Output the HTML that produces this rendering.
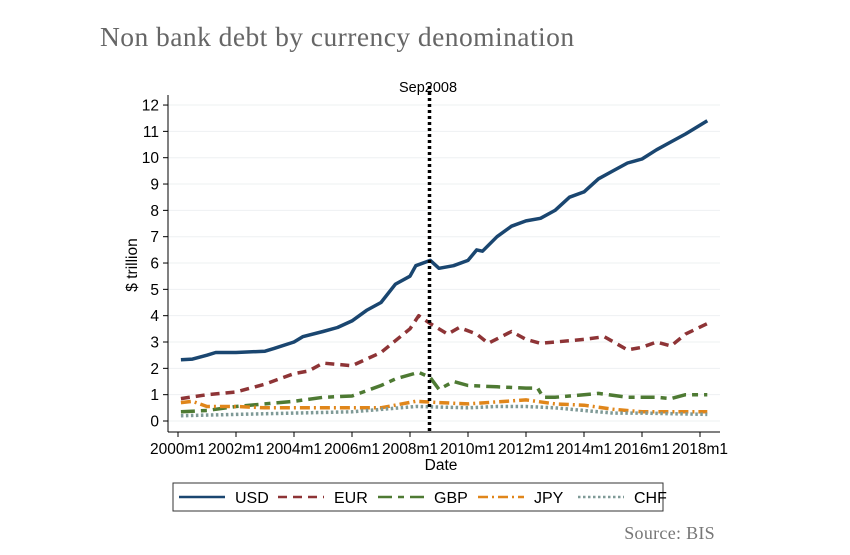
<!DOCTYPE html>
<html><head><meta charset="utf-8"><style>
body{margin:0;background:#fff;width:850px;height:550px;overflow:hidden}
svg text{font-family:"Liberation Sans",sans-serif}
</style></head><body>
<svg id="s" width="850" height="550" xmlns="http://www.w3.org/2000/svg">
<text x="100" y="46" style="font-family:'Liberation Serif',serif;letter-spacing:0.45px" font-size="27.5" fill="#666">Non bank debt by currency denomination</text>
<g id="grid"></g>
<line x1="168" y1="95" x2="168" y2="432" stroke="#000" stroke-width="1"/>
<line x1="168" y1="432" x2="720" y2="432" stroke="#000" stroke-width="1"/>
<g id="series"></g>
<line x1="429.5" y1="86" x2="429.5" y2="432" stroke="#000" stroke-width="3.5" stroke-dasharray="3,3"/>
<text x="428" y="92" font-size="14.5" text-anchor="middle">Sep2008</text>
<text transform="translate(137,265) rotate(-90)" font-size="15.5" text-anchor="middle">$ trillion</text>
<text x="441" y="470" font-size="15.5" text-anchor="middle">Date</text>
<rect x="173" y="483" width="490" height="28" fill="#fff" stroke="#333" stroke-width="1"/>
<g id="leg"></g>
<text x="715" y="539" font-size="18" text-anchor="end" style="font-family:'Liberation Serif',serif;letter-spacing:0.3px" fill="#777">Source: BIS</text>
</svg>
<script>
var ns="http://www.w3.org/2000/svg";
function X(y){return 178+(y-2000)*29;}
function Y(v){return 421-v*26.33;}
function el(t,a,p){var e=document.createElementNS(ns,t);for(var k in a)e.setAttribute(k,a[k]);document.getElementById(p).appendChild(e);return e;}
for(var i=0;i<=12;i++){var y=Y(i);
el("line",{x1:168,x2:720,y1:y,y2:y,stroke:"#eef0f2","stroke-width":1},"grid");
el("line",{x1:163,x2:168,y1:y,y2:y,stroke:"#000"},"grid");
var t=el("text",{x:159,y:y+5.5,"font-size":15.5,"text-anchor":"end"},"grid");t.textContent=i;}
for(var yr=2000;yr<=2018;yr+=2){var x=X(yr);
el("line",{x1:x,x2:x,y1:432,y2:437,stroke:"#000"},"grid");
var t=el("text",{x:x,y:454,"font-size":15.5,"text-anchor":"middle"},"grid");t.textContent=yr+"m1";}
var S=[
["#1a4670","",[[2000.1,2.33],[2000.5,2.35],[2001,2.5],[2001.3,2.6],[2002,2.6],[2003,2.65],[2003.3,2.75],[2004,3.0],[2004.3,3.2],[2005,3.4],[2005.5,3.55],[2006,3.8],[2006.5,4.2],[2007,4.5],[2007.5,5.2],[2008,5.5],[2008.2,5.9],[2008.7,6.1],[2009,5.8],[2009.5,5.9],[2010,6.1],[2010.3,6.5],[2010.5,6.45],[2011,7.0],[2011.5,7.4],[2012,7.6],[2012.5,7.7],[2013,8.0],[2013.5,8.5],[2014,8.7],[2014.5,9.2],[2015,9.5],[2015.5,9.8],[2016,9.95],[2016.5,10.3],[2017,10.6],[2017.5,10.9],[2018.25,11.4]]],
["#8e3436","9,6",[[2000.1,0.85],[2001,1.0],[2002,1.1],[2003,1.4],[2004,1.8],[2004.5,1.9],[2005,2.2],[2006,2.1],[2007,2.6],[2008,3.5],[2008.3,4.0],[2008.7,3.7],[2009.3,3.3],[2009.7,3.55],[2010.3,3.3],[2010.7,2.95],[2011.5,3.4],[2012,3.1],[2012.5,2.95],[2014,3.1],[2014.7,3.2],[2015.5,2.7],[2016,2.8],[2016.5,3.0],[2017,2.85],[2017.5,3.3],[2018.25,3.7]]],
["#4e7a33","14,6,6,6",[[2000.1,0.35],[2001,0.4],[2002,0.55],[2003,0.65],[2004,0.75],[2005,0.9],[2006,0.95],[2007,1.35],[2007.5,1.6],[2008.3,1.85],[2008.7,1.65],[2009,1.2],[2009.5,1.5],[2010,1.35],[2011,1.3],[2012,1.25],[2012.4,1.25],[2012.6,0.9],[2013,0.9],[2014,1.0],[2014.5,1.05],[2015.5,0.9],[2016.5,0.9],[2017,0.85],[2017.5,1.0],[2018.25,1.0]]],
["#e0861a","10,4,2,4",[[2000.1,0.7],[2000.5,0.75],[2001,0.55],[2002,0.55],[2003,0.5],[2004,0.5],[2006,0.5],[2007,0.5],[2008.2,0.75],[2009,0.7],[2010,0.65],[2012,0.8],[2013,0.65],[2014,0.6],[2015,0.45],[2016,0.35],[2018.25,0.35]]],
["#7f9a97","2.5,2.5",[[2000.1,0.2],[2002,0.25],[2004,0.3],[2006,0.35],[2008.2,0.55],[2010,0.5],[2011,0.55],[2012,0.55],[2013,0.5],[2014,0.4],[2015,0.3],[2016,0.3],[2018.25,0.25]]]];
var names=["USD","EUR","GBP","JPY","CHF"],lx=[179,278,378,478,578];
S.forEach(function(s,i){
var d=s[2].map(function(p,j){return (j?"L":"M")+X(p[0]).toFixed(1)+","+Y(p[1]).toFixed(1);}).join("");
var a={d:d,fill:"none",stroke:s[0],"stroke-width":3.5,"stroke-linejoin":"round"};if(s[1])a["stroke-dasharray"]=s[1];
el("path",a,"series");
var b={x1:lx[i],x2:lx[i]+46,y1:497,y2:497,stroke:s[0],"stroke-width":2.5};if(s[1])b["stroke-dasharray"]=s[1];
el("line",b,"leg");
var t=el("text",{x:lx[i]+56,y:503,"font-size":16},"leg");t.textContent=names[i];});
</script>
</body></html>
